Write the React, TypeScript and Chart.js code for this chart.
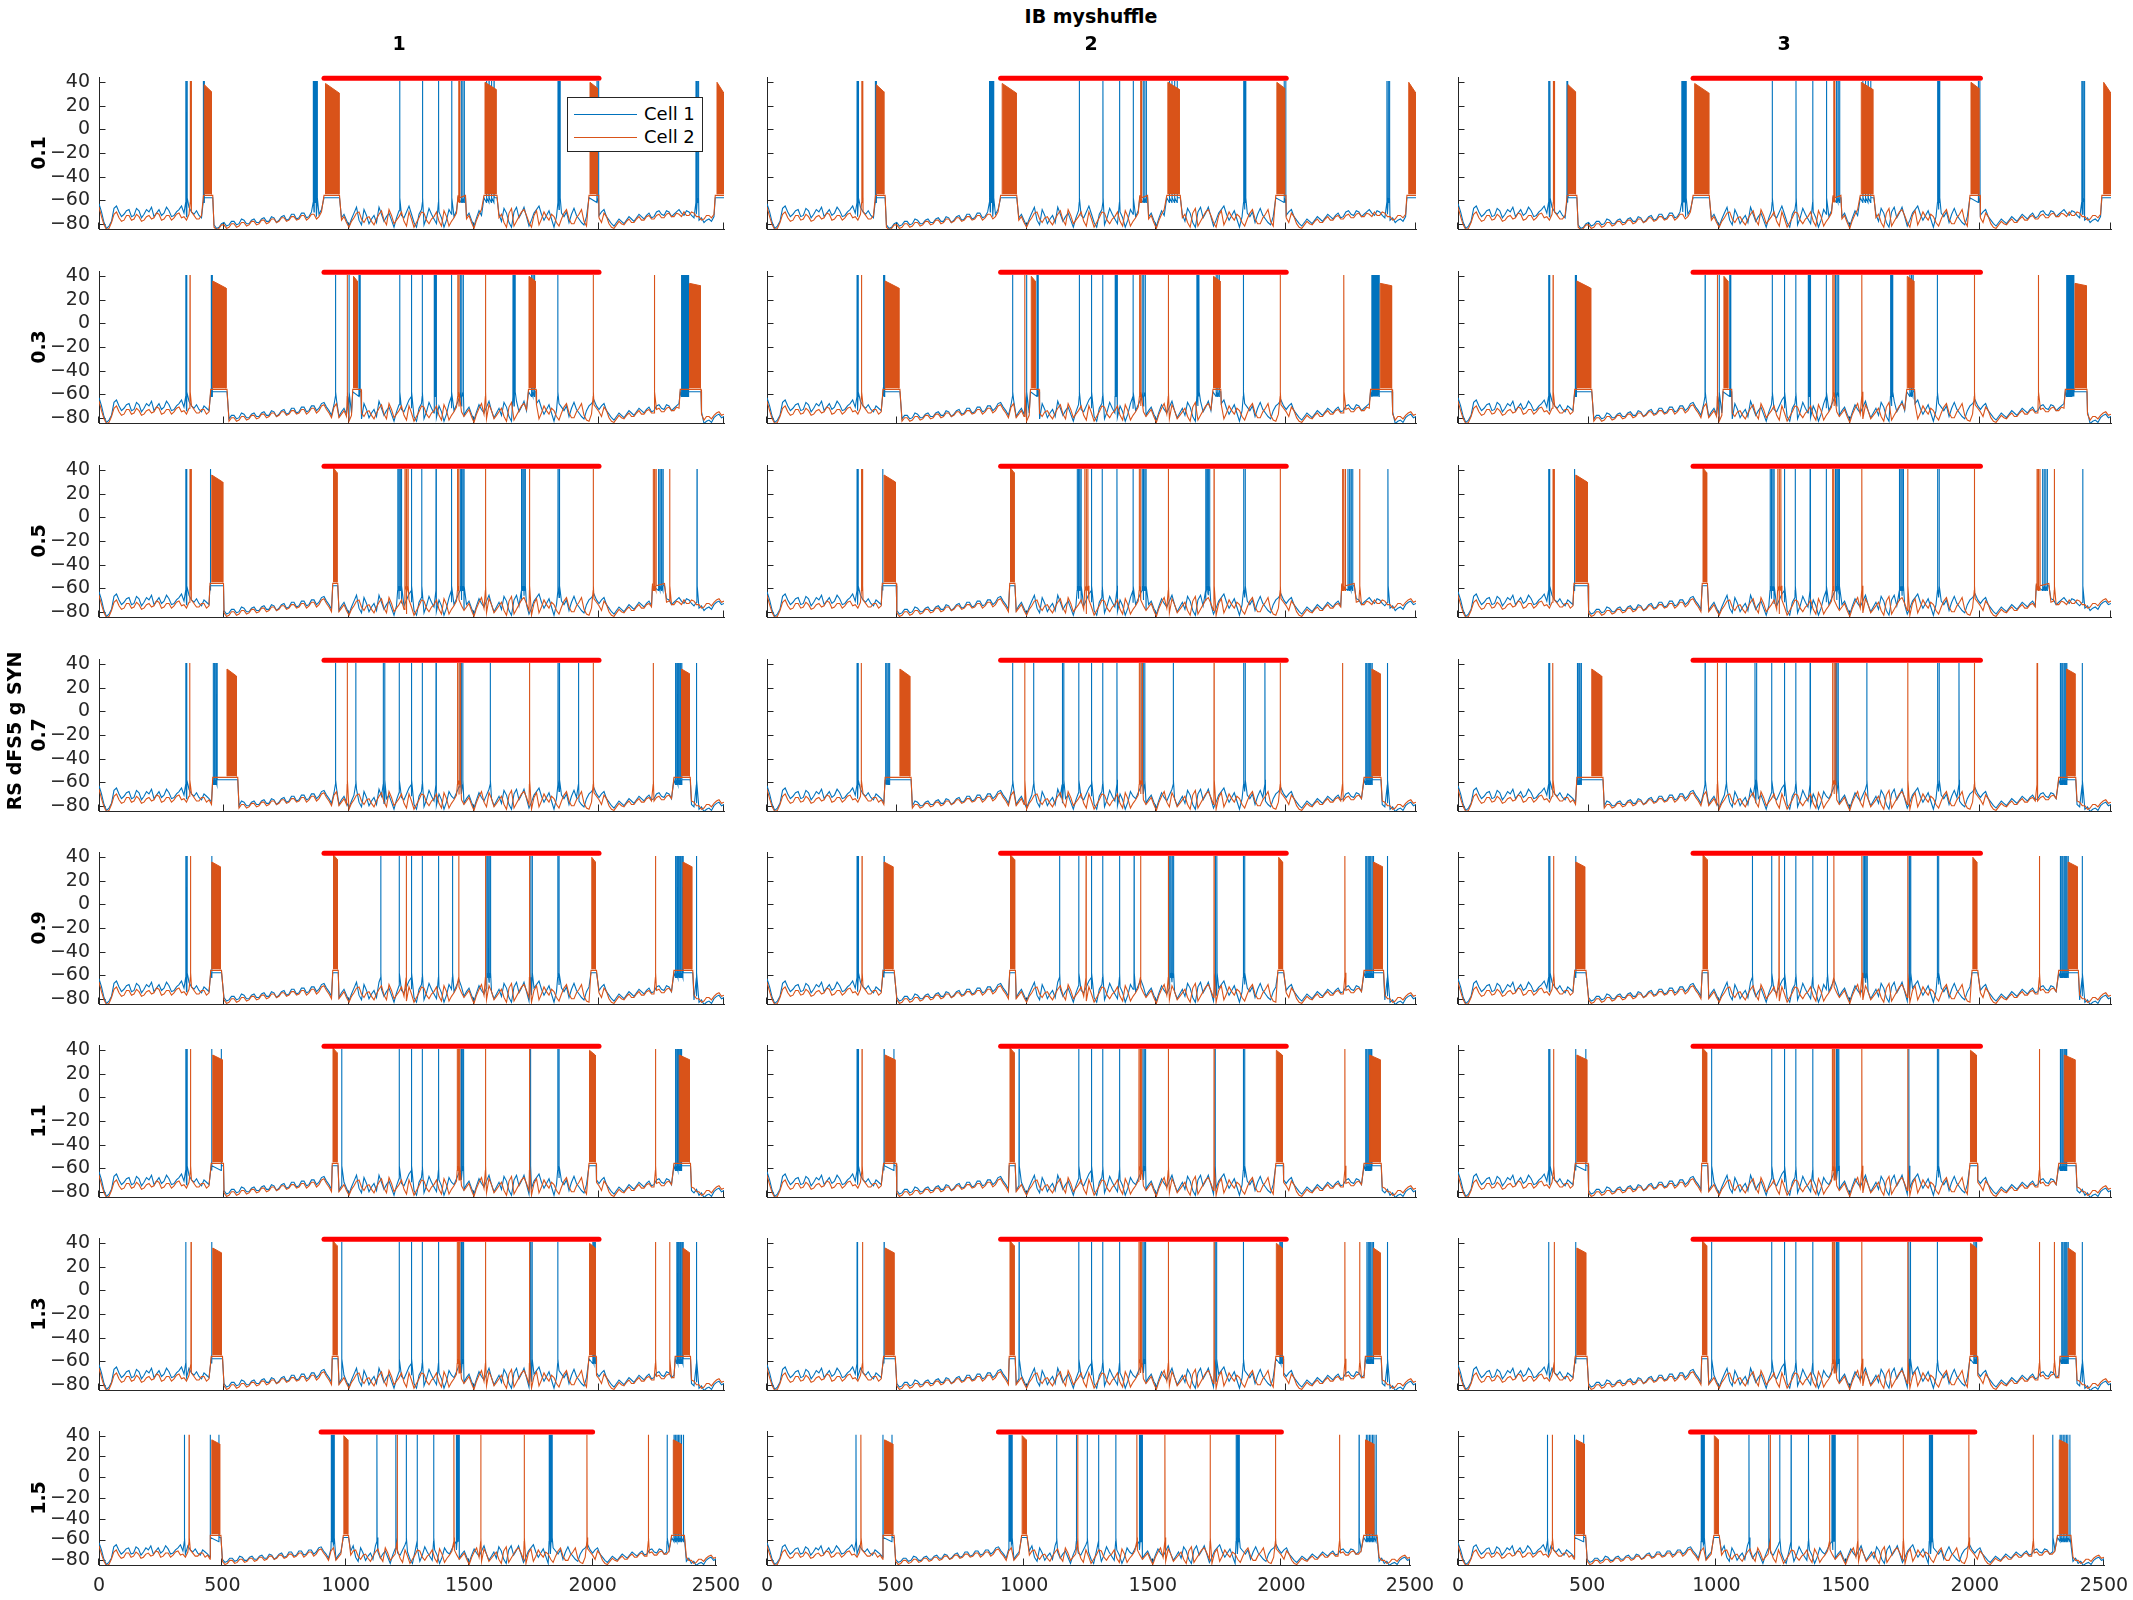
import React, { useEffect, useRef } from "react";
import { Chart, registerables } from "chart.js";

Chart.register(...registerables);

// ---------------- data ----------------
const figureTitle = "IB myshuffle";
const yAxisTitle = "RS dFS5 g SYN";
const rowLabels = ["0.1", "0.3", "0.5", "0.7", "0.9", "1.1", "1.3", "1.5"];
const colLabels = ["1", "2", "3"];
const legendLabels = ["Cell 1", "Cell 2"];
const xTicks = [0, 500, 1000, 1500, 2000, 2500];
const yTicks = [-80, -60, -40, -20, 0, 20, 40];
const xRange = [0, 2500];
const yRange = [-84.5, 44.5];
const stimulusWindow = [900, 2000];
const stimulusLevel = 43.5;

// baseline membrane potential (mV), sampled every 10 ms from 0 to 2500 ms
const baseStepMs = 10;
const cell1Baseline = [
  -63, -70, -79, -84, -82, -78, -67, -65, -70, -74, -72, -69, -68, -74, -73, -67, -69, -75, -72, -68,
  -70, -66, -74, -71, -68, -73, -71, -66, -69, -74, -73, -70, -68, -65, -71, -74, -66, -70, -72, -69,
  -73, -75, -70, -72, -74, -77, -81, -84, -83, -80, -79, -82, -81, -78, -78, -81, -80, -76, -77, -80,
  -80, -77, -76, -79, -79, -76, -75, -78, -78, -74, -75, -79, -77, -74, -73, -77, -76, -72, -72, -76,
  -75, -71, -71, -75, -74, -70, -70, -74, -72, -68, -67, -71, -74, -78, -69, -65, -79, -75, -72, -77,
  -82, -76, -71, -66, -77, -81, -68, -73, -80, -76, -73, -79, -66, -72, -78, -74, -71, -77, -83, -75,
  -69, -73, -75, -70, -65, -72, -79, -83, -72, -68, -81, -75, -67, -72, -76, -80, -70, -75, -83, -77,
  -68, -72, -74, -69, -64, -70, -78, -74, -71, -77, -82, -75, -69, -73, -76, -71, -66, -74, -80, -76,
  -72, -78, -67, -71, -79, -83, -70, -66, -75, -71, -66, -74, -82, -77, -71, -68, -65, -72, -77, -73,
  -69, -76, -83, -74, -68, -71, -74, -70, -79, -72, -67, -73, -76, -79, -81, -74, -70, -68, -65, -70,
  -73, -70, -68, -74, -77, -80, -82, -79, -76, -78, -80, -77, -74, -76, -78, -75, -72, -74, -76, -73,
  -71, -75, -74, -70, -69, -72, -73, -69, -70, -74, -72, -70, -68, -71, -73, -69, -70, -73, -75, -72,
  -77, -75, -79, -77, -76, -78, -74, -72, -71, -74, -73,
];
const cell2Baseline = [
  -66, -74, -81, -85, -84, -79, -72, -70, -75, -78, -77, -73, -73, -77, -76, -72, -74, -78, -77, -74,
  -73, -76, -75, -71, -72, -77, -76, -73, -73, -77, -75, -72, -71, -75, -74, -77, -72, -70, -73, -76,
  -76, -73, -73, -77, -75, -79, -83, -85, -84, -81, -81, -84, -83, -80, -80, -83, -82, -79, -79, -82,
  -81, -78, -78, -81, -80, -77, -77, -80, -79, -76, -76, -79, -78, -75, -75, -78, -77, -74, -74, -77,
  -76, -73, -73, -77, -75, -72, -72, -76, -74, -70, -69, -73, -76, -80, -71, -68, -80, -77, -74, -79,
  -83, -78, -75, -71, -70, -76, -79, -75, -74, -78, -81, -76, -72, -69, -77, -81, -68, -73, -80, -77,
  -74, -70, -78, -82, -70, -76, -83, -79, -75, -70, -71, -77, -80, -76, -74, -70, -78, -82, -69, -74,
  -82, -78, -75, -71, -70, -75, -79, -76, -73, -79, -84, -77, -72, -68, -77, -81, -69, -74, -81, -78,
  -75, -72, -79, -83, -71, -67, -82, -78, -74, -70, -68, -73, -79, -83, -73, -69, -81, -76, -70, -74,
  -77, -72, -74, -79, -82, -76, -71, -68, -76, -80, -80, -75, -72, -68, -78, -82, -83, -77, -69, -72,
  -75, -79, -71, -74, -80, -83, -84, -81, -78, -80, -81, -78, -76, -79, -79, -76, -74, -77, -77, -74,
  -73, -76, -76, -73, -72, -75, -75, -72, -71, -74, -74, -71, -72, -74, -70, -73, -73, -70, -71, -74,
  -74, -77, -76, -73, -73, -75, -72, -70, -69, -72, -71,
];

// single spike times (ms), one list per row
const cell1Spikes = [
  [347, 352, 417, 421, 857, 861, 865, 869, 873, 1203, 1294, 1358, 1411, 1449, 1455, 1461, 1550, 1560, 1570, 1580, 1836, 1840, 1844, 1992, 1998, 2388, 2393, 2398],
  [347, 351, 449, 453, 946, 1000, 1040, 1044, 1203, 1250, 1293, 1341, 1345, 1349, 1410, 1445, 1451, 1457, 1656, 1660, 1664, 1730, 1736, 1742, 1835, 2330, 2334, 2338, 2342, 2346, 2350, 2354, 2358],
  [347, 351, 446, 1195, 1200, 1205, 1210, 1250, 1291, 1348, 1410, 1445, 1450, 1455, 1460, 1690, 1695, 1700, 1705, 1836, 1842, 2238, 2244, 2250, 2256, 2392],
  [347, 351, 457, 462, 467, 472, 946, 1027, 1137, 1143, 1201, 1250, 1293, 1348, 1444, 1449, 1455, 1565, 1836, 1842, 1918, 2306, 2311, 2316, 2321, 2326, 2331, 2390],
  [347, 352, 451, 1127, 1201, 1250, 1293, 1358, 1414, 1551, 1556, 1561, 1566, 1727, 1733, 1835, 1840, 2306, 2311, 2316, 2321, 2326, 2331, 2336, 2390],
  [347, 352, 451, 489, 971, 1201, 1250, 1293, 1358, 1448, 1453, 1458, 1726, 1835, 1840, 2306, 2311, 2316, 2321, 2326, 2330],
  [347, 451, 971, 1201, 1250, 1293, 1358, 1448, 1453, 1458, 1726, 1732, 1835, 1975, 1980, 1985, 2311, 2316, 2321, 2326, 2331, 2336, 2390],
  [346, 451, 486, 941, 945, 949, 953, 1126, 1203, 1245, 1289, 1356, 1447, 1451, 1455, 1459, 1824, 1828, 1832, 1836, 2302, 2330, 2336, 2342, 2348, 2354, 2360, 2368],
];
const cell2Spikes = [
  [365, 369, 1439, 1443],
  [364, 993, 1435, 1440, 1546, 1977, 2222],
  [364, 368, 1224, 1230, 1236, 1434, 1439, 1546, 1722, 1977, 2217, 2222, 2228, 2283],
  [363, 993, 1434, 1440, 1446, 1722, 1977, 2217],
  [366, 1229, 1439, 1546, 1722, 2226],
  [366, 1433, 1438, 1443, 1546, 1722, 2226],
  [368, 1433, 1438, 1443, 1546, 1722, 2226, 2283],
  [365, 1208, 1438, 1547, 1723, 1977, 2226],
];
// dense bursts of cell 2: [start ms, end ms, top at start mV, top at end mV]
const cell2Bursts = [
  [[421, 450, 38, 32], [906, 960, 39, 31], [1544, 1588, 40, 34], [1964, 1994, 40, 35], [2472, 2502, 40, 30]],
  [[455, 508, 36, 30], [1018, 1033, 40, 36], [1720, 1745, 40, 36], [2362, 2406, 34, 32]],
  [[451, 495, 36, 30], [938, 952, 42, 38]],
  [[512, 550, 36, 30], [2330, 2362, 36, 32]],
  [[451, 485, 36, 32], [938, 954, 42, 38], [1971, 1986, 40, 36], [2336, 2371, 36, 32]],
  [[455, 493, 36, 32], [936, 952, 42, 38], [1962, 1985, 40, 36], [2321, 2362, 36, 32]],
  [[455, 489, 36, 32], [936, 952, 42, 38], [1962, 1985, 40, 36], [2336, 2362, 36, 32]],
  [[457, 489, 36, 32], [992, 1008, 40, 36], [2327, 2359, 36, 32]],
];
// depolarised plateaus shared by both cells: [start ms, end ms]
const plateaus = [
  [[418, 455], [900, 962], [1436, 1466], [1540, 1592], [1960, 1999], [2465, 2500]],
  [[447, 512], [1015, 1048], [1718, 1748], [2325, 2408]],
  [[444, 498], [935, 955], [2214, 2262]],
  [[455, 555], [2300, 2365]],
  [[447, 490], [935, 957], [1968, 1990], [2300, 2375]],
  [[449, 498], [933, 956], [1960, 1989], [2300, 2366]],
  [[449, 494], [933, 956], [1960, 1989], [2305, 2366]],
  [[451, 494], [990, 1011], [2320, 2372]],
];
const plateauLevel = [-58, -56];
const burstFloor = -55;
// hyperpolarisation after the late burst (start ms, null = none)
const lateDropStart = [null, 2412, null, 2368, 2378, 2370, 2370, 2374];
const lateDropShift = -6;
const spikePeak = 41;
const spikeFoot = -62;
const spikeAfter = -58;

// ---------------- style / layout ----------------
const BLUE = "#0072BD";
const ORANGE = "#D95319";
const RED = "#FF0000";
const AXIS = "#262626";
const FONT = "'DejaVu Sans', sans-serif";

const colLeft = [99, 767, 1458];
const colRight = [724, 1416, 2111];
const lastRowTrim = [8, 6, 7];
const rowTop = [77, 271, 465, 659, 852, 1045, 1238, 1431];
const rowBottom = [229, 423, 617, 811, 1004, 1197, 1390, 1565];
const PAD_L = 70;
const PAD_R = 40;
const PAD_T = 28;
const PAD_B = 28;

type Pt = { x: number; y: number | null };

function buildTrace(base: number[], spikes: number[], plats: number[][], dropStart: number | null, level: number): Pt[] {
  const pts: Pt[] = [];
  base.forEach((v, i) => {
    const t = i * baseStepMs;
    if (plats.some(([s, e]) => t >= s && t <= e)) return;
    const shift = dropStart !== null && t >= dropStart ? lateDropShift : 0;
    pts.push({ x: t, y: v + shift });
  });
  plats.forEach(([s, e]) => {
    pts.push({ x: s, y: level }, { x: e, y: level });
  });
  spikes.forEach((t) => {
    pts.push({ x: t - 0.4, y: spikeFoot }, { x: t, y: spikePeak }, { x: t + 0.8, y: spikeAfter });
  });
  pts.sort((a, b) => a.x - b.x);
  return pts;
}

function buildBursts(bursts: number[][]): Pt[] {
  const pts: Pt[] = [];
  bursts.forEach(([s, e, top1, top2]) => {
    pts.push({ x: s, y: burstFloor }, { x: s, y: top1 }, { x: e, y: top2 }, { x: e, y: burstFloor }, { x: e + 0.01, y: null });
  });
  return pts;
}

const inwardTicks = {
  id: "inwardTicks",
  beforeDatasetsDraw(chart: any) {
    const { ctx, chartArea, scales } = chart;
    const len = 6.5;
    ctx.save();
    ctx.strokeStyle = AXIS;
    ctx.lineWidth = 1;
    ctx.beginPath();
    yTicks.forEach((v) => {
      const py = Math.round(scales.y.getPixelForValue(v)) + 0.5;
      ctx.moveTo(chartArea.left, py);
      ctx.lineTo(chartArea.left + len, py);
    });
    xTicks.forEach((v) => {
      const px = Math.round(scales.x.getPixelForValue(v)) - 0.5;
      ctx.moveTo(px, chartArea.bottom);
      ctx.lineTo(px, chartArea.bottom - len);
    });
    ctx.stroke();
    ctx.restore();
  },
};

function panelGeometry(r: number, c: number) {
  const last = r === rowLabels.length - 1;
  const left = colLeft[c];
  const right = colRight[c] - (last ? lastRowTrim[c] : 0);
  const top = rowTop[r];
  const bottom = rowBottom[r];
  const xAxisH = last ? 44 : 10;
  return {
    last,
    xAxisH,
    canvasLeft: left - PAD_L,
    canvasTop: top - PAD_T,
    width: PAD_L + (right - left) + PAD_R,
    height: PAD_T + (bottom - top) + xAxisH + PAD_B,
  };
}

function makeConfig(r: number, c: number): any {
  const g = panelGeometry(r, c);
  const blue = buildTrace(cell1Baseline, cell1Spikes[r], plateaus[r], lateDropStart[r], plateauLevel[0]);
  const orange = buildTrace(cell2Baseline, cell2Spikes[r], plateaus[r], lateDropStart[r], plateauLevel[1]);
  const bursts = buildBursts(cell2Bursts[r]);
  const tickFont = { family: FONT, size: 19 };
  return {
    type: "line",
    data: {
      datasets: [
        {
          label: "stimulus",
          data: [
            { x: stimulusWindow[0], y: stimulusLevel },
            { x: stimulusWindow[1], y: stimulusLevel },
          ],
          borderColor: RED,
          borderWidth: 5,
          borderCapStyle: "round",
          clip: false,
        },
        {
          label: legendLabels[1] + " bursts",
          data: bursts,
          borderColor: ORANGE,
          backgroundColor: ORANGE,
          borderWidth: 1,
          fill: { value: burstFloor },
          spanGaps: false,
        },
        { label: legendLabels[1], data: orange, borderColor: ORANGE, borderWidth: 1.1 },
        { label: legendLabels[0], data: blue, borderColor: BLUE, borderWidth: 1.1 },
      ],
    },
    options: {
      responsive: false,
      maintainAspectRatio: false,
      animation: false,
      events: [],
      devicePixelRatio: 1,
      layout: { autoPadding: false, padding: { left: 0, right: PAD_R, top: PAD_T, bottom: PAD_B } },
      elements: { point: { radius: 0 }, line: { tension: 0 } },
      plugins: { legend: { display: false }, tooltip: { enabled: false }, title: { display: false } },
      scales: {
        x: {
          type: "linear",
          min: xRange[0],
          max: xRange[1],
          afterBuildTicks: (s: any) => {
            s.ticks = xTicks.map((v) => ({ value: v }));
          },
          afterFit: (s: any) => {
            s.height = g.xAxisH;
          },
          grid: { display: false, drawTicks: false },
          border: { display: true, color: AXIS, width: 1 },
          ticks: {
            display: g.last,
            font: tickFont,
            color: AXIS,
            padding: 10,
            maxRotation: 0,
            autoSkip: false,
            callback: (v: any) => String(v),
          },
        },
        y: {
          type: "linear",
          min: yRange[0],
          max: yRange[1],
          afterBuildTicks: (s: any) => {
            s.ticks = yTicks.map((v) => ({ value: v }));
          },
          afterFit: (s: any) => {
            s.width = PAD_L;
          },
          grid: { display: false, drawTicks: false },
          border: { display: true, color: AXIS, width: 1 },
          ticks: {
            display: c === 0,
            font: tickFont,
            color: AXIS,
            padding: 9,
            autoSkip: false,
            callback: (v: any) => String(v).replace("-", "\u2212"),
          },
        },
      },
    },
    plugins: [inwardTicks],
  };
}

const labelStyle: React.CSSProperties = {
  position: "absolute",
  fontFamily: FONT,
  fontWeight: "bold",
  fontSize: 19,
  color: "#000",
  whiteSpace: "nowrap",
  lineHeight: 1,
};

export default function App() {
  const refs = useRef<(HTMLCanvasElement | null)[]>([]);

  useEffect(() => {
    document.body.style.margin = "0";
    const charts: Chart[] = [];
    for (let r = 0; r < rowLabels.length; r++) {
      for (let c = 0; c < colLabels.length; c++) {
        const cv = refs.current[r * colLabels.length + c];
        if (cv) charts.push(new Chart(cv, makeConfig(r, c)));
      }
    }
    return () => charts.forEach((ch) => ch.destroy());
  }, []);

  const canvases: React.ReactNode[] = [];
  for (let r = 0; r < rowLabels.length; r++) {
    for (let c = 0; c < colLabels.length; c++) {
      const g = panelGeometry(r, c);
      const idx = r * colLabels.length + c;
      canvases.push(
        <canvas
          key={idx}
          ref={(el) => {
            refs.current[idx] = el;
          }}
          width={g.width}
          height={g.height}
          style={{ position: "absolute", left: g.canvasLeft, top: g.canvasTop, width: g.width, height: g.height }}
        />
      );
    }
  }

  const colTitleX = [399, 1091, 1784];

  return (
    <div style={{ position: "absolute", left: 0, top: 0, width: 2133, height: 1600, background: "#fff", overflow: "hidden" }}>
      {canvases}
      <div style={{ ...labelStyle, left: 1091, top: 16, transform: "translate(-50%, -50%)" }}>{figureTitle}</div>
      {colLabels.map((l, c) => (
        <div key={"ct" + c} style={{ ...labelStyle, left: colTitleX[c], top: 43, transform: "translate(-50%, -50%)" }}>
          {l}
        </div>
      ))}
      {rowLabels.map((l, r) => (
        <div
          key={"rl" + r}
          style={{
            ...labelStyle,
            left: 38,
            top: (rowTop[r] + rowBottom[r]) / 2,
            transform: "translate(-50%, -50%) rotate(-90deg)",
          }}
        >
          {l}
        </div>
      ))}
      <div style={{ ...labelStyle, left: 14, top: 731, transform: "translate(-50%, -50%) rotate(-90deg)" }}>{yAxisTitle}</div>
      <div
        style={{
          position: "absolute",
          left: 567,
          top: 97,
          width: 136,
          height: 55,
          boxSizing: "border-box",
          border: "1px solid " + AXIS,
          background: "#fff",
          zIndex: 5,
          fontFamily: FONT,
          fontSize: 18,
          color: "#000",
        }}
      >
        {[BLUE, ORANGE].map((col, i) => (
          <React.Fragment key={"lg" + i}>
            <div style={{ position: "absolute", left: 6, width: 63, top: 16 + i * 23, height: 0, borderTop: "1.3px solid " + col }} />
            <div style={{ position: "absolute", left: 76, top: 16 + i * 23, transform: "translateY(-50%)", lineHeight: 1, whiteSpace: "nowrap" }}>
              {legendLabels[i]}
            </div>
          </React.Fragment>
        ))}
      </div>
    </div>
  );
}
